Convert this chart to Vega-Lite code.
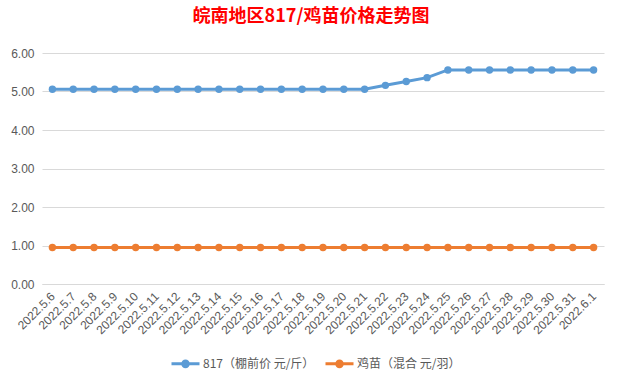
{
  "$schema": "https://vega.github.io/schema/vega-lite/v6.json",
  "width": 562,
  "height": 231,
  "autosize": {"type": "none"},
  "padding": {"left": 42, "top": 53, "right": 19, "bottom": 96},
  "background": "white",
  "config": {"view": {"stroke": null}},
  "title": {
    "text": "皖南地区817/鸡苗价格走势图",
    "font": "Noto Sans CJK SC",
    "fontSize": 18,
    "fontWeight": "bold",
    "color": "#FF0000",
    "anchor": "middle",
    "offset": 21,
    "dx": -12
  },
  "data": {
    "values": [
      {"date": "2022.5.6", "series": "817（棚前价 元/斤）", "value": 5.06},
      {"date": "2022.5.7", "series": "817（棚前价 元/斤）", "value": 5.06},
      {"date": "2022.5.8", "series": "817（棚前价 元/斤）", "value": 5.06},
      {"date": "2022.5.9", "series": "817（棚前价 元/斤）", "value": 5.06},
      {"date": "2022.5.10", "series": "817（棚前价 元/斤）", "value": 5.06},
      {"date": "2022.5.11", "series": "817（棚前价 元/斤）", "value": 5.06},
      {"date": "2022.5.12", "series": "817（棚前价 元/斤）", "value": 5.06},
      {"date": "2022.5.13", "series": "817（棚前价 元/斤）", "value": 5.06},
      {"date": "2022.5.14", "series": "817（棚前价 元/斤）", "value": 5.06},
      {"date": "2022.5.15", "series": "817（棚前价 元/斤）", "value": 5.06},
      {"date": "2022.5.16", "series": "817（棚前价 元/斤）", "value": 5.06},
      {"date": "2022.5.17", "series": "817（棚前价 元/斤）", "value": 5.06},
      {"date": "2022.5.18", "series": "817（棚前价 元/斤）", "value": 5.06},
      {"date": "2022.5.19", "series": "817（棚前价 元/斤）", "value": 5.06},
      {"date": "2022.5.20", "series": "817（棚前价 元/斤）", "value": 5.06},
      {"date": "2022.5.21", "series": "817（棚前价 元/斤）", "value": 5.06},
      {"date": "2022.5.22", "series": "817（棚前价 元/斤）", "value": 5.16},
      {"date": "2022.5.23", "series": "817（棚前价 元/斤）", "value": 5.26},
      {"date": "2022.5.24", "series": "817（棚前价 元/斤）", "value": 5.36},
      {"date": "2022.5.25", "series": "817（棚前价 元/斤）", "value": 5.56},
      {"date": "2022.5.26", "series": "817（棚前价 元/斤）", "value": 5.56},
      {"date": "2022.5.27", "series": "817（棚前价 元/斤）", "value": 5.56},
      {"date": "2022.5.28", "series": "817（棚前价 元/斤）", "value": 5.56},
      {"date": "2022.5.29", "series": "817（棚前价 元/斤）", "value": 5.56},
      {"date": "2022.5.30", "series": "817（棚前价 元/斤）", "value": 5.56},
      {"date": "2022.5.31", "series": "817（棚前价 元/斤）", "value": 5.56},
      {"date": "2022.6.1", "series": "817（棚前价 元/斤）", "value": 5.56},
      {"date": "2022.5.6", "series": "鸡苗（混合 元/羽）", "value": 0.95},
      {"date": "2022.5.7", "series": "鸡苗（混合 元/羽）", "value": 0.95},
      {"date": "2022.5.8", "series": "鸡苗（混合 元/羽）", "value": 0.95},
      {"date": "2022.5.9", "series": "鸡苗（混合 元/羽）", "value": 0.95},
      {"date": "2022.5.10", "series": "鸡苗（混合 元/羽）", "value": 0.95},
      {"date": "2022.5.11", "series": "鸡苗（混合 元/羽）", "value": 0.95},
      {"date": "2022.5.12", "series": "鸡苗（混合 元/羽）", "value": 0.95},
      {"date": "2022.5.13", "series": "鸡苗（混合 元/羽）", "value": 0.95},
      {"date": "2022.5.14", "series": "鸡苗（混合 元/羽）", "value": 0.95},
      {"date": "2022.5.15", "series": "鸡苗（混合 元/羽）", "value": 0.95},
      {"date": "2022.5.16", "series": "鸡苗（混合 元/羽）", "value": 0.95},
      {"date": "2022.5.17", "series": "鸡苗（混合 元/羽）", "value": 0.95},
      {"date": "2022.5.18", "series": "鸡苗（混合 元/羽）", "value": 0.95},
      {"date": "2022.5.19", "series": "鸡苗（混合 元/羽）", "value": 0.95},
      {"date": "2022.5.20", "series": "鸡苗（混合 元/羽）", "value": 0.95},
      {"date": "2022.5.21", "series": "鸡苗（混合 元/羽）", "value": 0.95},
      {"date": "2022.5.22", "series": "鸡苗（混合 元/羽）", "value": 0.95},
      {"date": "2022.5.23", "series": "鸡苗（混合 元/羽）", "value": 0.95},
      {"date": "2022.5.24", "series": "鸡苗（混合 元/羽）", "value": 0.95},
      {"date": "2022.5.25", "series": "鸡苗（混合 元/羽）", "value": 0.95},
      {"date": "2022.5.26", "series": "鸡苗（混合 元/羽）", "value": 0.95},
      {"date": "2022.5.27", "series": "鸡苗（混合 元/羽）", "value": 0.95},
      {"date": "2022.5.28", "series": "鸡苗（混合 元/羽）", "value": 0.95},
      {"date": "2022.5.29", "series": "鸡苗（混合 元/羽）", "value": 0.95},
      {"date": "2022.5.30", "series": "鸡苗（混合 元/羽）", "value": 0.95},
      {"date": "2022.5.31", "series": "鸡苗（混合 元/羽）", "value": 0.95},
      {"date": "2022.6.1", "series": "鸡苗（混合 元/羽）", "value": 0.95}
    ]
  },
  "mark": {"type": "line", "strokeWidth": 3, "point": {"size": 55, "filled": true, "opacity": 1}},
  "encoding": {
    "x": {
      "field": "date",
      "type": "ordinal",
      "sort": null,
      "scale": {"type": "point", "padding": 0.5},
      "axis": {
        "title": null,
        "labelAngle": -45,
        "labelAlign": "right",
        "labelBaseline": "middle",
        "labelFont": "Liberation Sans",
        "labelFontSize": 12,
        "labelColor": "#595959",
        "labelPadding": 10,
        "ticks": false,
        "domainColor": "#D9D9D9",
        "grid": false
      }
    },
    "y": {
      "field": "value",
      "type": "quantitative",
      "scale": {"domain": [0, 6], "nice": false},
      "axis": {
        "title": null,
        "values": [0, 1, 2, 3, 4, 5, 6],
        "format": ".2f",
        "labelFont": "Liberation Sans",
        "labelFontSize": 12,
        "labelColor": "#595959",
        "labelPadding": 8,
        "ticks": false,
        "domain": false,
        "gridColor": "#D9D9D9",
        "gridWidth": 1
      }
    },
    "color": {
      "field": "series",
      "type": "nominal",
      "scale": {
        "domain": ["817（棚前价 元/斤）", "鸡苗（混合 元/羽）"],
        "range": ["#5B9BD5", "#ED7D31"]
      },
      "legend": {
        "title": null,
        "orient": "none",
        "direction": "horizontal",
        "legendX": 128,
        "legendY": 295,
        "labelFont": "Noto Sans CJK SC",
        "labelFontSize": 12,
        "labelColor": "#595959",
        "symbolType": "M-1,0L1,0M-0.2,0A0.2,0.2 0 1,1 0.2,0A0.2,0.2 0 1,1 -0.2,0Z",
        "symbolSize": 784,
        "symbolStrokeWidth": 3,
        "columnPadding": 4,
        "labelOffset": 2,
        "encode": {"symbols": {"update": {"fill": {"scale": "color", "field": "value"}}}}
      }
    }
  }
}
